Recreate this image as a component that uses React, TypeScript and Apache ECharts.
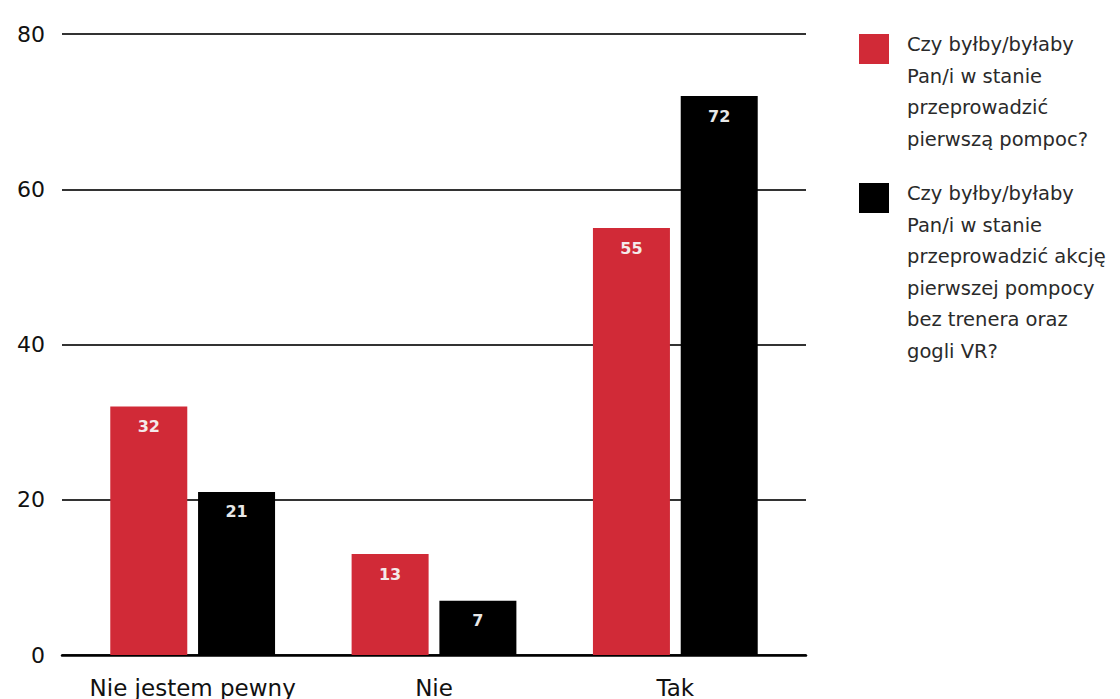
import React, { useEffect, useRef } from "react";
import * as echarts from "echarts";

const categories = ["Nie jestem pewny", "Nie", "Tak"];
const firstAidValues = [32, 13, 55];
const vrFirstAidValues = [21, 7, 72];
const yTicks = [0, 20, 40, 60, 80];
const seriesNames = [
  "Czy byłby/byłaby Pan/i w stanie przeprowadzić pierwszą pompoc?",
  "Czy byłby/byłaby Pan/i w stanie przeprowadzić akcję pierwszej pompocy bez trenera oraz gogli VR?",
];
const legendLines = [
  ["Czy byłby/byłaby", "Pan/i w stanie", "przeprowadzić", "pierwszą pompoc?"],
  ["Czy byłby/byłaby", "Pan/i w stanie", "przeprowadzić akcję", "pierwszej pompocy", "bez trenera oraz", "gogli VR?"],
];
const colors = ["#d12a37", "#000000"];

const FONT = "'DejaVu Sans', 'Noto Sans', sans-serif";

export default function App() {
  const ref = useRef<HTMLDivElement>(null);

  useEffect(() => {
    if (!ref.current) return;
    const chart = echarts.init(ref.current, undefined, { renderer: "svg" });
    const yMin = yTicks[0];
    const yMax = yTicks[yTicks.length - 1];
    const step = yTicks[1] - yTicks[0];

    const legendGraphics: any[] = [];
    const legendTops = [34, 183];
    legendLines.forEach((lines, i) => {
      legendGraphics.push({
        type: "rect",
        left: 859,
        top: legendTops[i],
        shape: { width: 30, height: 30 },
        style: { fill: colors[i] },
      });
      legendGraphics.push({
        type: "text",
        left: 907,
        top: legendTops[i] - 5,
        style: {
          text: lines.join("\n"),
          font: `19.5px ${FONT}`,
          lineHeight: 31.5,
          fill: "#2a2a2a",
        },
      });
    });

    const labelStyle = {
      show: true,
      position: "insideTop" as const,
      distance: 12,
      color: "#f4eaea",
      fontSize: 16,
      fontWeight: "bold" as const,
      fontFamily: FONT,
    };

    chart.setOption({
      animation: false,
      backgroundColor: "#ffffff",
      textStyle: { fontFamily: FONT },
      grid: [
        { left: 62, width: 744, top: 34, height: 621 },
        { left: 72, width: 724, top: 34, height: 621 },
      ],
      xAxis: [
        {
          type: "category",
          gridIndex: 0,
          data: [""],
          axisLine: { show: true, lineStyle: { color: "#000", width: 2.5 } },
          axisTick: { show: false },
          axisLabel: { show: false },
        },
        {
          type: "category",
          gridIndex: 1,
          data: categories,
          axisLine: { show: false },
          axisTick: { show: false },
          axisLabel: {
            interval: 0,
            hideOverlap: false,
            color: "#111",
            fontSize: 23,
            fontFamily: FONT,
            margin: 21,
          },
        },
      ],
      yAxis: [
        {
          type: "value",
          gridIndex: 0,
          min: yMin,
          max: yMax,
          interval: step,
          axisLine: { show: false },
          axisTick: { show: false },
          axisLabel: {
            color: "#111",
            fontSize: 22,
            fontFamily: FONT,
            margin: 17,
          },
          splitLine: { lineStyle: { color: "#333", width: 2 } },
        },
        {
          type: "value",
          gridIndex: 1,
          min: yMin,
          max: yMax,
          interval: step,
          show: false,
          splitLine: { show: false },
        },
      ],
      series: [
        {
          name: seriesNames[0],
          type: "bar",
          xAxisIndex: 1,
          yAxisIndex: 1,
          data: firstAidValues,
          barWidth: 77,
          barGap: "14%",
          itemStyle: { color: colors[0] },
          label: labelStyle,
        },
        {
          name: seriesNames[1],
          type: "bar",
          xAxisIndex: 1,
          yAxisIndex: 1,
          data: vrFirstAidValues,
          barWidth: 77,
          barGap: "14%",
          itemStyle: { color: colors[1] },
          label: { ...labelStyle, color: "#e8e8e8" },
        },
      ],
      graphic: legendGraphics,
    });

    return () => chart.dispose();
  }, []);

  return (
    <div
      ref={ref}
      style={{ position: "fixed", left: 0, top: 0, width: 1120, height: 699 }}
    />
  );
}
